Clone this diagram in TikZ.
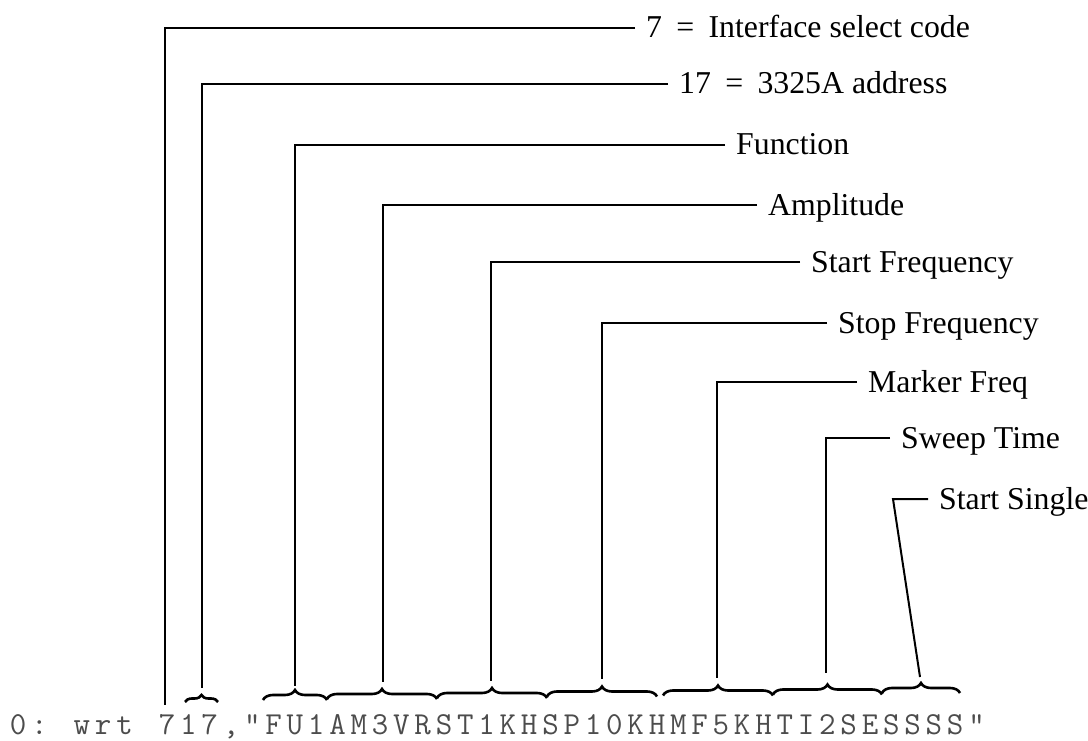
\documentclass[tikz,border=0pt]{standalone}
\usepackage{fontspec}
\setmainfont{Liberation Serif}
\usetikzlibrary{decorations.pathreplacing}
\begin{document}
\begin{tikzpicture}[x=1pt,y=-1pt,
  lead/.style={line width=2pt},
  brc/.style={line width=2.6pt, decorate, decoration={brace, amplitude=10pt}},
  lbl/.style={anchor=west, inner xsep=11pt, inner ysep=0pt, text height=20pt, text depth=0pt, font=\fontsize{31.8}{36}\selectfont},
  ch/.style={anchor=base, inner sep=0pt, font=\ttfamily\fontsize{32}{32}\selectfont, text=black!70}]
\useasboundingbox (0,0) rectangle (1088,741);

% label nodes
\node[lbl] (L1) at (635,28) {7\hspace{0.45em}=\hspace{0.45em}Interface select code};
\node[lbl] (L2) at (668,84) {17\hspace{0.45em}=\hspace{0.45em}3325A address};
\node[lbl] (L3) at (725,145) {Function};
\node[lbl] (L4) at (757,205) {Amplitude};
\node[lbl] (L5) at (800,262) {Start Frequency};
\node[lbl] (L6) at (827,323) {Stop Frequency};
\node[lbl] (L7) at (857,382) {Marker Freq};
\node[lbl] (L8) at (890,438) {Sweep Time};
\node[lbl] (L9) at (928,499) {Start Single};

% leader end points
\coordinate (e1) at (165,705);
\coordinate (e2) at (202,688);
\coordinate (e3) at (295,686);
\coordinate (e4) at (383,682);
\coordinate (e5) at (491,681);
\coordinate (e6) at (602,679);
\coordinate (e7) at (717,678);
\coordinate (e8) at (826,673);
\coordinate (c9) at (893,499);
\coordinate (e9) at (920,677);

% leaders
\draw[lead] (L1.west) -| (e1);
\draw[lead] (L2.west) -| (e2);
\draw[lead] (L3.west) -| (e3);
\draw[lead] (L4.west) -| (e4);
\draw[lead] (L5.west) -| (e5);
\draw[lead] (L6.west) -| (e6);
\draw[lead] (L7.west) -| (e7);
\draw[lead] (L8.west) -| (e8);
\draw[lead] (L9.west) -- (c9) -- (e9);

% braces
\coordinate (a0) at (185,702); \coordinate (a1) at (218,702);
\coordinate (b0) at (263,700); \coordinate (b1) at (327,700);
\coordinate (b2) at (327,699); \coordinate (b3) at (437,699);
\coordinate (b4) at (437,698); \coordinate (b5) at (547,698);
\coordinate (b6) at (547,696.5); \coordinate (b7) at (657,696.5);
\coordinate (b8) at (663,695.5); \coordinate (b9) at (773,695.5);
\coordinate (b10) at (773,694.5); \coordinate (b11) at (882,694.5);
\coordinate (b12) at (882,693); \coordinate (b13) at (960,693);
\draw[brc, decoration={amplitude=7pt}] (a0) -- (a1);
\draw[brc] (b0) -- (b1);
\draw[brc] (b2) -- (b3);
\draw[brc] (b4) -- (b5);
\draw[brc] (b6) -- (b7);
\draw[brc] (b8) -- (b9);
\draw[brc] (b10) -- (b11);
\draw[brc] (b12) -- (b13);

% program line
\foreach \c [count=\i from 0] in {0,:,{},w,r,t,{},7,1,7,{,},",F,U,1,A,M,3,V,R,S,T,1,K,H,S,P,1,0,K,H,M,F,5,K,H,T,I,2,S,E,S,S,S,S,"}
  \node[ch] (ch\i) at ({18+21.3*\i},734) {\c};
\end{tikzpicture}
\end{document}
